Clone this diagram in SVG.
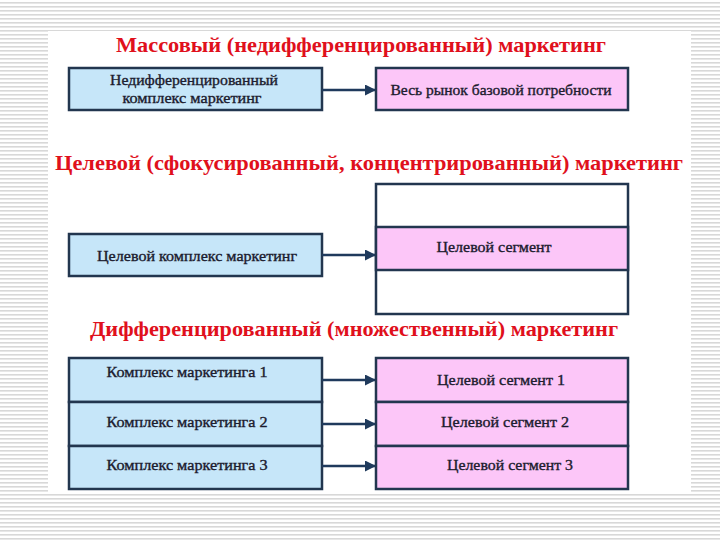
<svg xmlns="http://www.w3.org/2000/svg" width="720" height="540" viewBox="0 0 720 540">
<defs>
<pattern id="stripes" width="8" height="4" patternUnits="userSpaceOnUse">
<rect width="8" height="4" fill="#ffffff"/>
<rect y="2" width="8" height="1.6" fill="#d8d8d8"/>
</pattern>
<marker id="arr" markerWidth="11" markerHeight="11" refX="10" refY="5.5" orient="auto" markerUnits="userSpaceOnUse">
<path d="M0,0 L11,5.5 L0,11 z" fill="#1f3a5c"/>
</marker>
<style>
.title{font-family:"Liberation Serif","Times New Roman",serif;font-weight:bold;font-size:21px;fill:#e0101c;text-anchor:middle}
.blue{fill:#c6e6f9;stroke:#22364f;stroke-width:2.5}
.pink{fill:#fcc6f8;stroke:#22364f;stroke-width:2.5}
.white{fill:#ffffff;stroke:#22364f;stroke-width:2.5}
.lbl{font-family:"Liberation Serif","Times New Roman",serif;font-size:15px;fill:#1b1b2e;stroke:#1b1b2e;stroke-width:0.35;text-anchor:middle}
.conn{stroke:#1f3a5c;stroke-width:2.5;fill:none;marker-end:url(#arr)}
</style>
</defs>
<rect width="720" height="540" fill="url(#stripes)"/>
<rect x="48" y="31" width="643" height="462" fill="#ffffff"/>

<g id="title1"><text class="title" x="361" y="52" textLength="490" lengthAdjust="spacingAndGlyphs">Массовый (недифференцированный) маркетинг</text></g>
<g id="title2"><text class="title" x="369" y="170" textLength="628" lengthAdjust="spacingAndGlyphs">Целевой (сфокусированный, концентрированный) маркетинг</text></g>
<g id="title3"><text class="title" x="354" y="336" textLength="528" lengthAdjust="spacingAndGlyphs">Дифференцированный (множественный) маркетинг</text></g>

<g id="mass-mix">
<rect class="blue" x="69" y="68" width="253" height="42"/>
<text class="lbl" x="194" y="85" textLength="168" lengthAdjust="spacingAndGlyphs">Недифференцированный</text>
<text class="lbl" x="192" y="103" textLength="139" lengthAdjust="spacingAndGlyphs">комплекс  маркетинг</text>
</g>
<g id="mass-market">
<rect class="pink" x="376" y="68" width="252" height="42"/>
<text class="lbl" x="501" y="95" textLength="221" lengthAdjust="spacingAndGlyphs">Весь рынок базовой потребности</text>
</g>

<g id="target-mix">
<rect class="blue" x="69" y="234" width="253" height="42"/>
<text class="lbl" x="197" y="261" textLength="200" lengthAdjust="spacingAndGlyphs">Целевой комплекс  маркетинг</text>
</g>
<g id="target-stack">
<rect class="white" x="376" y="184" width="252" height="130"/>
<rect class="pink" x="376" y="227" width="252" height="43"/>
<text class="lbl" x="494" y="252" textLength="115" lengthAdjust="spacingAndGlyphs">Целевой сегмент</text>
</g>

<g id="mix1">
<rect class="blue" x="69" y="358" width="253" height="44"/>
<text class="lbl" x="187" y="377" textLength="161" lengthAdjust="spacingAndGlyphs">Комплекс  маркетинга 1</text>
</g>
<g id="mix2">
<rect class="blue" x="69" y="402" width="253" height="44"/>
<text class="lbl" x="187" y="427" textLength="161" lengthAdjust="spacingAndGlyphs">Комплекс  маркетинга 2</text>
</g>
<g id="mix3">
<rect class="blue" x="69" y="446" width="253" height="43"/>
<text class="lbl" x="187" y="470" textLength="161" lengthAdjust="spacingAndGlyphs">Комплекс  маркетинга 3</text>
</g>
<g id="seg1">
<rect class="pink" x="376" y="358" width="252" height="44"/>
<text class="lbl" x="501" y="385" textLength="128" lengthAdjust="spacingAndGlyphs">Целевой сегмент  1</text>
</g>
<g id="seg2">
<rect class="pink" x="376" y="402" width="252" height="44"/>
<text class="lbl" x="505" y="427" textLength="128" lengthAdjust="spacingAndGlyphs">Целевой сегмент  2</text>
</g>
<g id="seg3">
<rect class="pink" x="376" y="446" width="252" height="43"/>
<text class="lbl" x="510" y="470" textLength="126" lengthAdjust="spacingAndGlyphs">Целевой сегмент  3</text>
</g>

<g id="connectors">
<line class="conn" x1="322" y1="90" x2="375" y2="90"/>
<line class="conn" x1="322" y1="255" x2="375" y2="255"/>
<line class="conn" x1="322" y1="380" x2="375" y2="380"/>
<line class="conn" x1="322" y1="424" x2="375" y2="424"/>
<line class="conn" x1="322" y1="466" x2="375" y2="466"/>
</g>
</svg>
